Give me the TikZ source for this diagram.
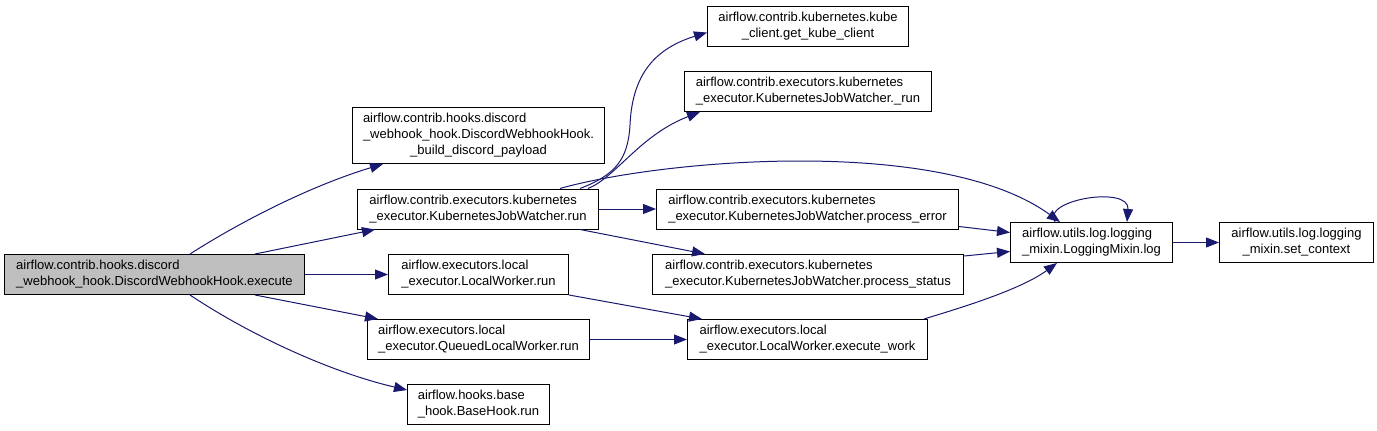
\documentclass[tikz,border=0pt]{standalone}
\usepackage{fontspec}
\setmainfont{Liberation Sans}
\usetikzlibrary{arrows.meta,calc}
\definecolor{edgeblue}{HTML}{191970}
\definecolor{hlgray}{HTML}{BFBFBF}
\newcommand\twol[2]{\begin{tabular}{@{}l@{}}#1\\\multicolumn{1}{@{}c@{}}{#2}\end{tabular}}
\newcommand\threel[3]{\begin{tabular}{@{}l@{}}#1\\#2\\\multicolumn{1}{@{}c@{}}{#3}\end{tabular}}
\begin{document}
\begin{tikzpicture}[x=0.75pt,y=-0.75pt,
  box/.style={draw=black, fill=white, line width=0.75pt, inner sep=0pt, anchor=north west,
    font=\fontsize{9.75pt}{11.8pt}\selectfont},
  hbox/.style={box, fill=hlgray},
  conn/.style={draw=edgeblue, line width=0.75pt, -{Triangle[length=9.75pt,width=7.5pt]}}]
\fill[white] (0,0) rectangle (1377,431);
\useasboundingbox (0,0) rectangle (1377,431);
% nodes
\node[hbox, minimum width=225pt, minimum height=30pt] (ex) at (4,254)
  {\twol{airflow.contrib.hooks.discord}{\_webhook\_hook.DiscordWebhookHook.execute}};
\node[box, minimum width=189pt, minimum height=42pt] (bd) at (352,107)
  {\threel{airflow.contrib.hooks.discord}{\_webhook\_hook.DiscordWebhookHook.}{\_build\_discord\_payload}};
\node[box, minimum width=180.75pt, minimum height=30pt] (kr) at (357,188.5)
  {\twol{airflow.contrib.executors.kubernetes}{\_executor.KubernetesJobWatcher.run}};
\node[box, minimum width=135pt, minimum height=30pt] (lw) at (388,254)
  {\twol{airflow.executors.local}{\_executor.LocalWorker.run}};
\node[box, minimum width=166.5pt, minimum height=30pt] (ql) at (367,319)
  {\twol{airflow.executors.local}{\_executor.QueuedLocalWorker.run}};
\node[box, minimum width=106.5pt, minimum height=30pt] (bh) at (407,384)
  {\twol{airflow.hooks.base}{\_hook.BaseHook.run}};
\node[box, minimum width=150.75pt, minimum height=30pt] (kc) at (707,6)
  {\twol{airflow.contrib.kubernetes.kube}{\_client.get\_kube\_client}};
\node[box, minimum width=185.25pt, minimum height=30pt] (kru) at (684,71)
  {\twol{airflow.contrib.executors.kubernetes}{\_executor.KubernetesJobWatcher.\_run}};
\node[box, minimum width=226.5pt, minimum height=30pt] (pe) at (656,188.5)
  {\twol{airflow.contrib.executors.kubernetes}{\_executor.KubernetesJobWatcher.process\_error}};
\node[box, minimum width=233.25pt, minimum height=30pt] (ps) at (652,254)
  {\twol{airflow.contrib.executors.kubernetes}{\_executor.KubernetesJobWatcher.process\_status}};
\node[box, minimum width=180pt, minimum height=30pt] (ew) at (687,319)
  {\twol{airflow.executors.local}{\_executor.LocalWorker.execute\_work}};
\node[box, minimum width=121.5pt, minimum height=30pt] (lg) at (1010,222)
  {\twol{airflow.utils.log.logging}{\_mixin.LoggingMixin.log}};
\node[box, minimum width=115.5pt, minimum height=30pt] (sc) at (1219,222)
  {\twol{airflow.utils.log.logging}{\_mixin.set\_context}};
% edges from execute
\draw[conn] ($(ex.north west)+(186,0)$) .. controls (240,222) and (310,186) .. ($(bd.south west)+(31,0)$);
\draw[conn] ($(ex.north west)+(251,0)$) -- ($(kr.south west)+(18,0)$);
\draw[conn] (ex.east) -- (lw.west);
\draw[conn] ($(ex.south west)+(251,0)$) -- ($(ql.north west)+(11,0)$);
\draw[conn] ($(ex.south west)+(186,0)$) .. controls (250,335) and (330,372) .. ($(bh.north west)+(0,6)$);
% edges from KubernetesJobWatcher.run
\draw[conn] ($(kr.north west)+(223,0)$) .. controls (615,175) and (628,160) .. (630,125)
  .. controls (632,80) and (650,50) .. ($(kc.west)+(0,6)$);
\draw[conn] ($(kr.north west)+(231,0)$) .. controls (615,178) and (640,135) .. ($(kru.south west)+(16,0)$);
\draw[conn] ($(kr.north west)+(203,0)$) .. controls (660,160) and (940,135) .. ($(lg.north west)+(50,0)$);
\draw[conn] (kr.east) -- (pe.west);
\draw[conn] ($(kr.south west)+(223,0)$) -- ($(ps.north west)+(53,0)$);
% edges into log
\draw[conn] ($(pe.south east)+(0,-3)$) -- ($(lg.west)+(0,-10)$);
\draw[conn] ($(ps.north east)+(0,2)$) -- ($(lg.west)+(0,9)$);
\draw[conn] ($(ew.north east)+(-4,0)$) .. controls (960,308) and (1020,290) .. ($(lg.south west)+(47,0)$);
\draw[conn] ($(lg.north west)+(45,0)$) .. controls (1040,200) and (1130,185) .. ($(lg.north west)+(117,0)$);
\draw[conn] (lg.east) -- (sc.west);
% edges into execute_work
\draw[conn] (lw.south east) -- ($(ew.north west)+(15,0)$);
\draw[conn] (ql.east) -- (ew.west);
\end{tikzpicture}
\end{document}
